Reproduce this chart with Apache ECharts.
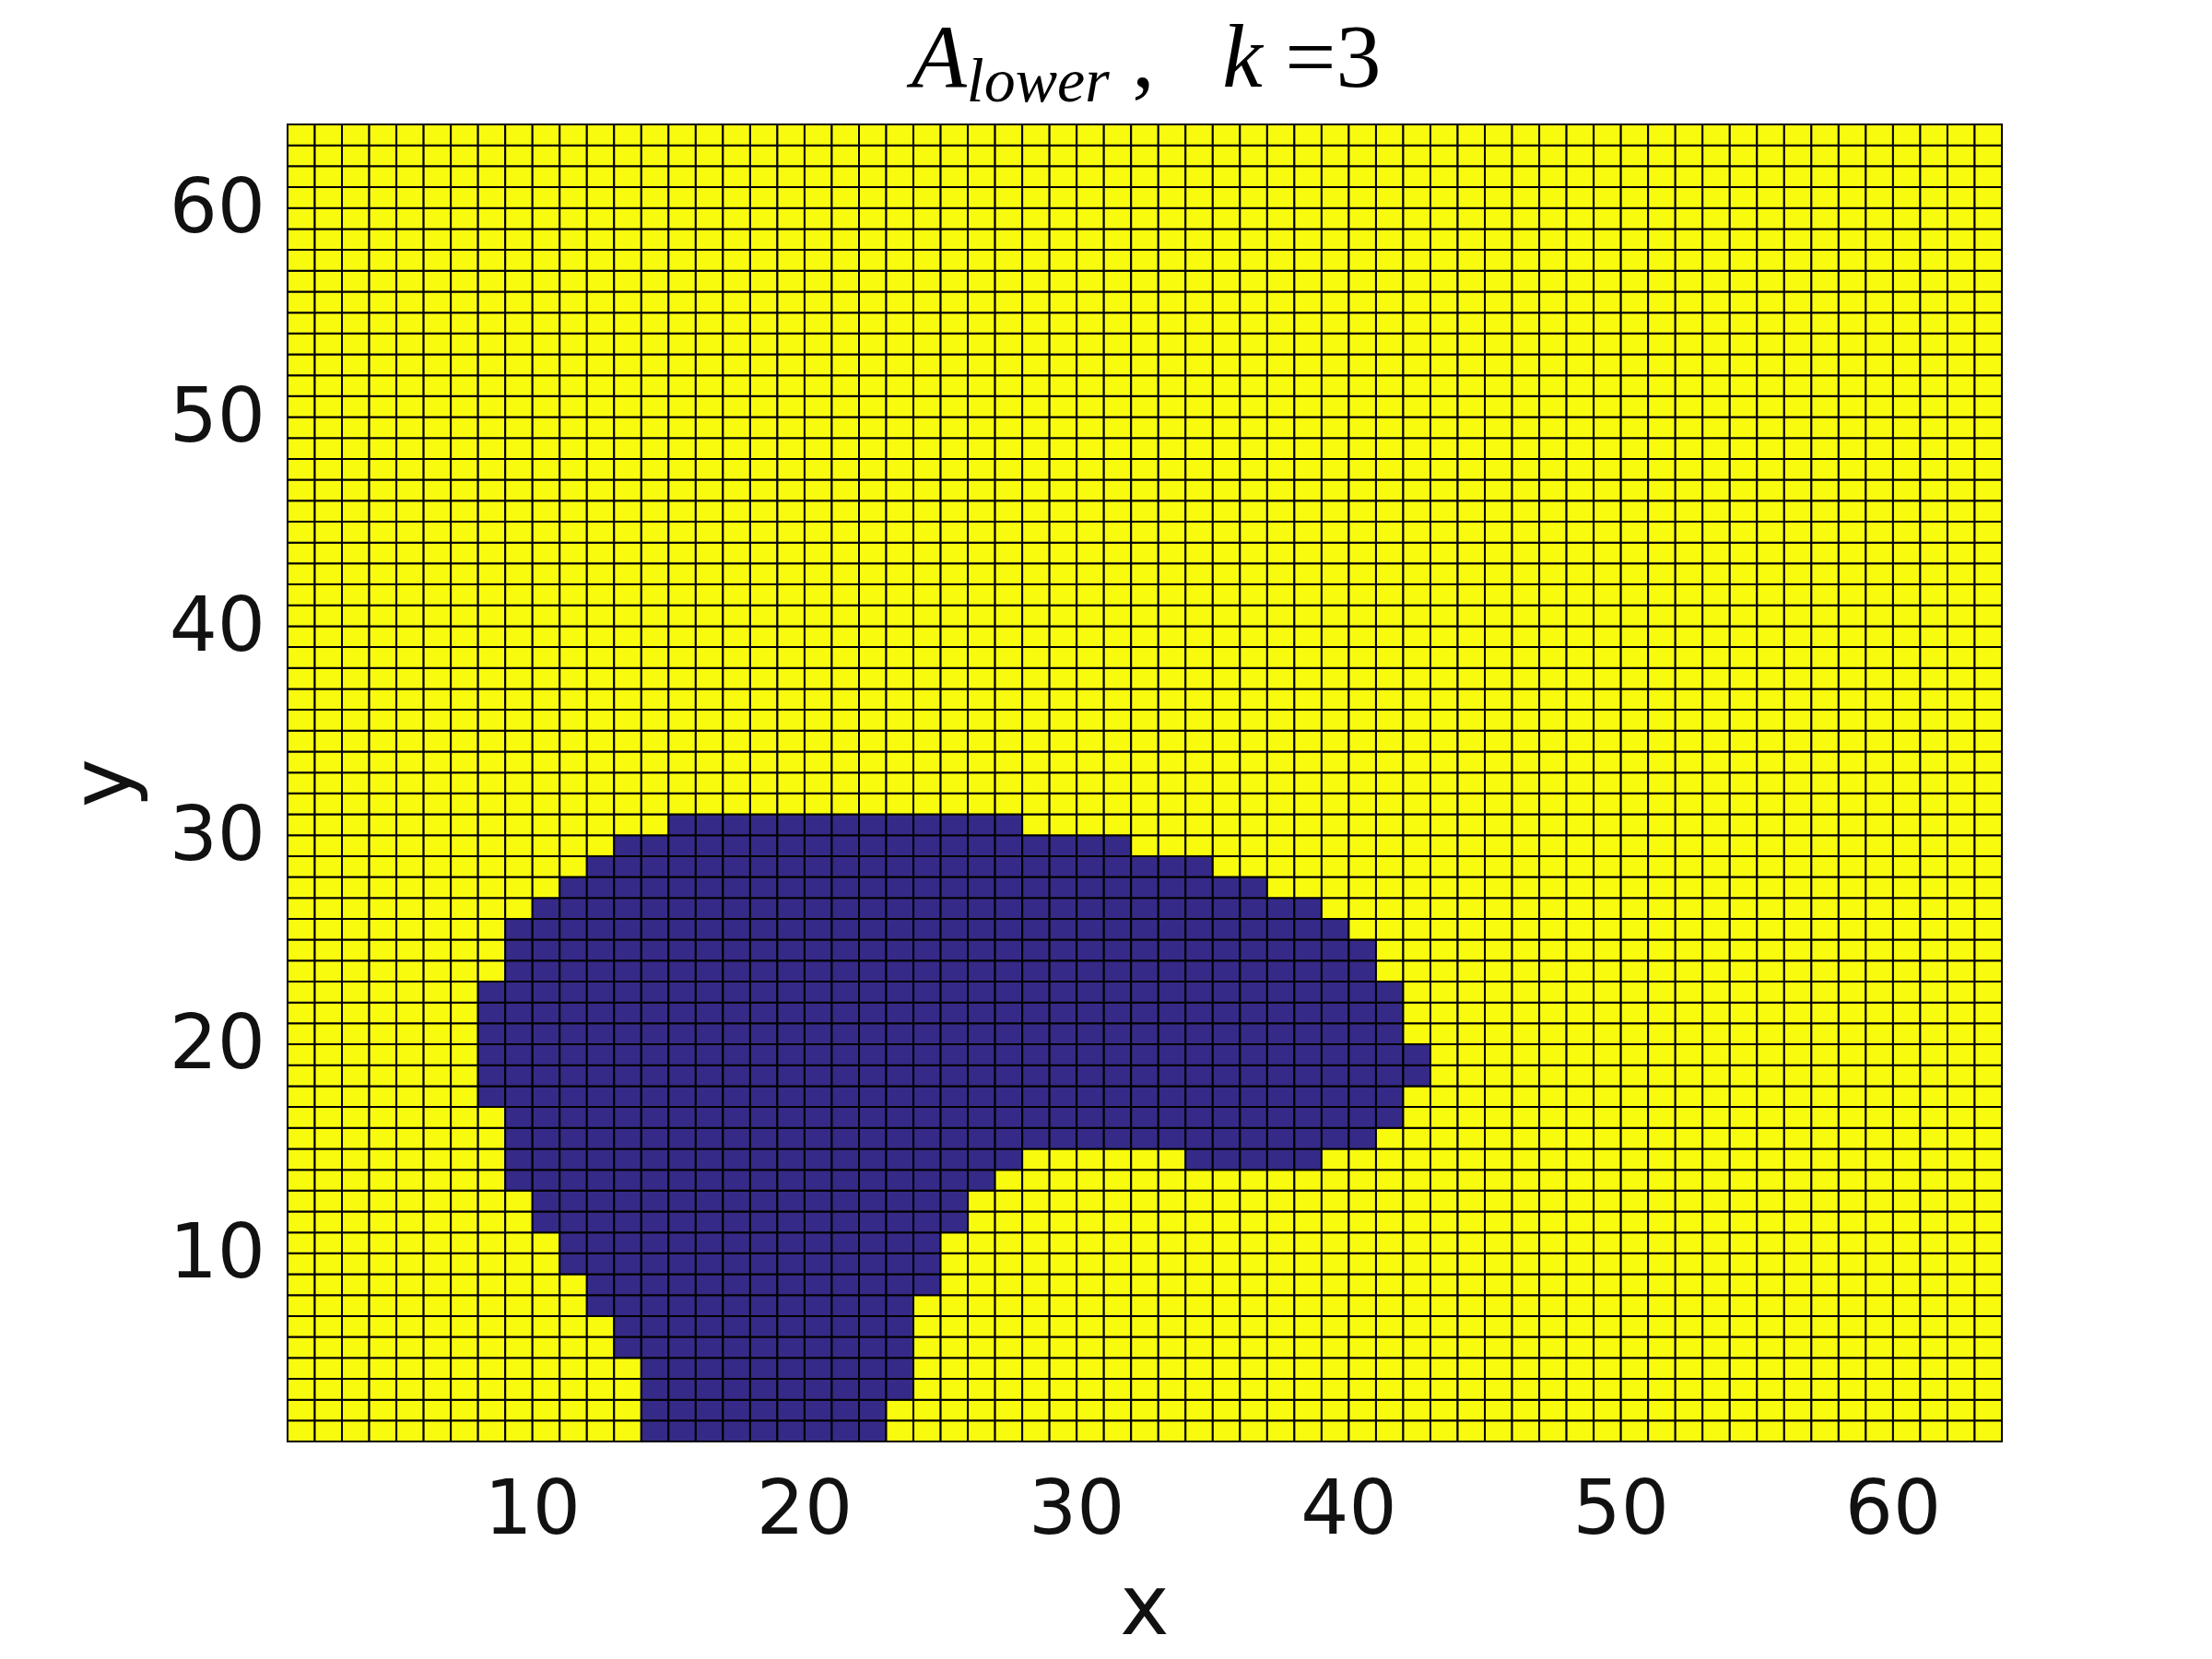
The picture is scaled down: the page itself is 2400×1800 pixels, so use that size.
<!DOCTYPE html>
<html><head><meta charset="utf-8">
<script src="https://cdn.jsdelivr.net/npm/echarts@6/dist/echarts.min.js"></script>
<style>html,body{margin:0;padding:0;background:#fff}#c{width:2400px;height:1800px}</style>
</head><body><div id="c"></div>
<script>
// Grid nodes run from 1 to 64 on both axes (63 x 63 cells, pcolor style)
const xRange = [1, 64];
const yRange = [1, 64];
const xTicks = [10, 20, 30, 40, 50, 60];
const yTicks = [10, 20, 30, 40, 50, 60];
const levelColors = ['#352A87', '#F9FB0E']; // 0 = region A_lower, 1 = outside
// Blue (value 0) region: for each cell row (bottom edge y), cells with x in [start, end)
const blueRowY  = [ 1, 2, 3, 4, 5, 6, 7, 8, 9,10,11,12,13,14,15,16,17,18,19,20,21,22,23,24,25,26,27,28,29,30];
const blueStart = [14,14,14,14,13,13,12,12,11,11,10,10, 9, 9, 9, 9, 8, 8, 8, 8, 8, 8, 9, 9, 9,10,11,12,13,15];
const blueEnd   = [23,23,24,24,24,24,24,25,25,25,26,26,27,28,41,42,42,43,43,42,42,42,41,41,40,39,37,35,32,28];
// extra detached piece on one row: [y, start, end)
const blueExtra = [[14, 34, 39]];

function cellValue(x, y) {
  const idx = blueRowY.indexOf(y);
  if (idx >= 0 && x >= blueStart[idx] && x < blueEnd[idx]) return 0;
  for (const e of blueExtra) {
    if (e[0] === y && x >= e[1] && x < e[2]) return 0;
  }
  return 1;
}
const cells = [];
for (let y = yRange[0]; y < yRange[1]; y++) {
  for (let x = xRange[0]; x < xRange[1]; x++) {
    cells.push([x, y, cellValue(x, y)]);
  }
}

const chart = echarts.init(document.getElementById('c'), null, {renderer: 'canvas'});
const tickFont = 'DejaVu Sans';
chart.setOption({
  backgroundColor: '#ffffff',
  animation: false,
  title: {
    left: 984,
    top: 14,
    text: '{a|A}{s|lower}{n| ,   }{a|k}{n| =3}',
    textStyle: {
      fontWeight: 'normal',
      fontFamily: 'Liberation Serif',
      fontSize: 98,
      rich: {
        a: {fontFamily: 'Liberation Serif', fontStyle: 'italic', fontWeight: 'normal', fontSize: 98, lineHeight: 98, color: '#000'},
        s: {fontFamily: 'Liberation Serif', fontStyle: 'italic', fontWeight: 'normal', fontSize: 68, lineHeight: 68, color: '#000', padding: [48, 0, 0, 0]},
        n: {fontFamily: 'Liberation Serif', fontWeight: 'normal', fontSize: 98, lineHeight: 98, color: '#000'}
      }
    }
  },
  grid: {left: 312, top: 135, width: 1860, height: 1429, show: true, borderColor: '#222', borderWidth: 1, backgroundColor: 'transparent'},
  xAxis: {
    type: 'value', min: xRange[0], max: xRange[1],
    axisLine: {show: false}, axisTick: {show: false}, splitLine: {show: false},
    axisLabel: {customValues: xTicks, fontSize: 82, fontFamily: tickFont, color: '#111', margin: 38},
    name: 'x', nameLocation: 'middle', nameGap: 141,
    nameTextStyle: {fontSize: 90, fontFamily: tickFont, color: '#111'}
  },
  yAxis: {
    type: 'value', min: yRange[0], max: yRange[1],
    axisLine: {show: false}, axisTick: {show: false}, splitLine: {show: false},
    axisLabel: {
      customValues: yTicks, margin: 24,
      formatter: '{v|{value}}',
      rich: {v: {fontSize: 82, lineHeight: 82, fontFamily: tickFont, color: '#111', padding: [10, 0, 0, 0]}}
    },
    name: 'y', nameLocation: 'middle', nameGap: 149,
    nameTextStyle: {fontSize: 90, fontFamily: tickFont, color: '#111'}
  },
  series: [{
    type: 'custom',
    encode: {x: 0, y: 1},
    data: cells,
    progressive: 0,
    renderItem: function (params, api) {
      const x = api.value(0), y = api.value(1), v = api.value(2);
      const p0 = api.coord([x, y + 1]);
      const p1 = api.coord([x + 1, y]);
      return {
        type: 'rect',
        shape: {x: p0[0], y: p0[1], width: p1[0] - p0[0], height: p1[1] - p0[1]},
        style: {fill: levelColors[v], stroke: '#000', lineWidth: 2}
      };
    }
  }]
});
</script>
</body></html>
